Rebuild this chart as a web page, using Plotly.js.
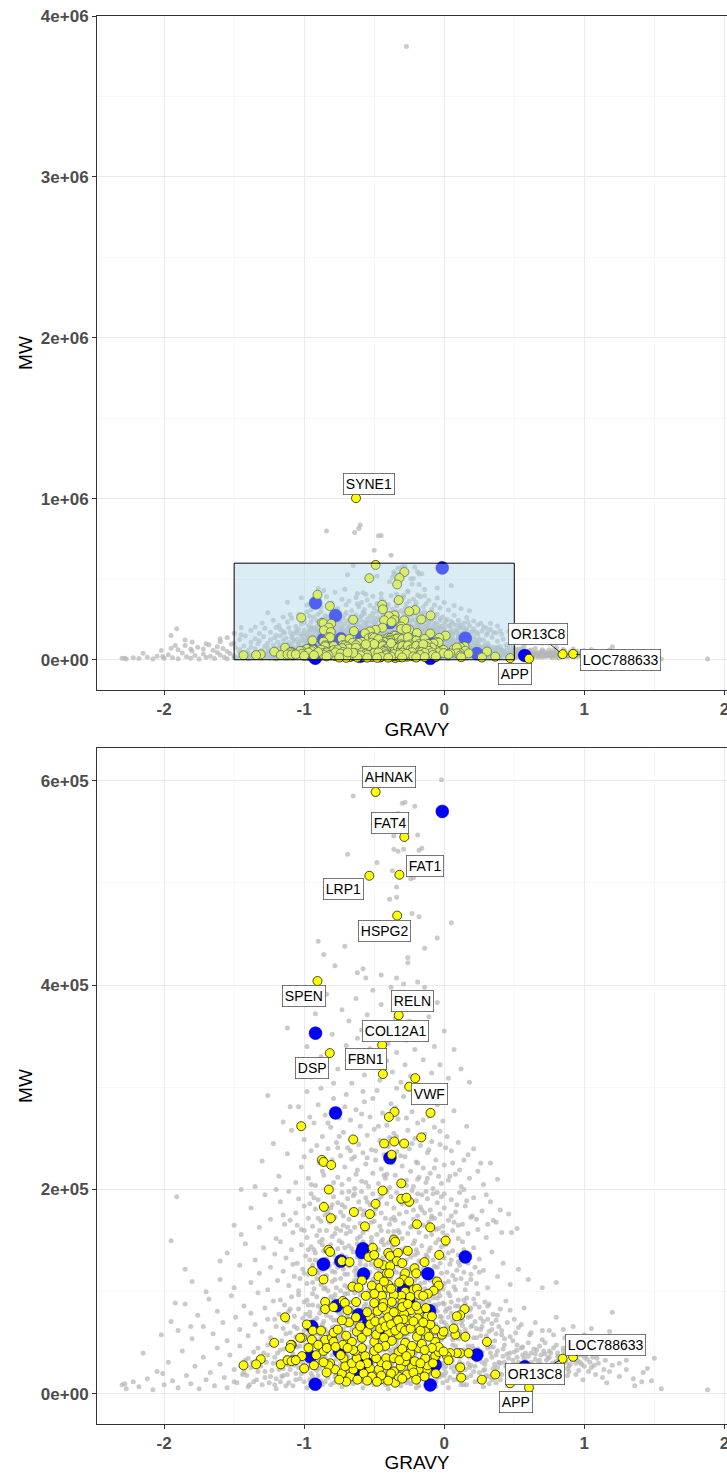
<!DOCTYPE html>
<html><head><meta charset="utf-8">
<script src="https://cdn.plot.ly/plotly-3.0.1.min.js"></script>
<style>html,body{margin:0;padding:0;overflow:hidden;background:#fff}</style>
</head><body><div id="chart"></div>
<script>
// ---------- DATA: [GRAVY, MW in kDa] ----------
const grayPoints = [
[-0.27,3810],[-0.84,800],[-0.64,790],[-0.6,837],[-0.61,815],[-0.47,770],[-0.45,772],[-0.38,650],[-0.5,680],
[-0.02,601],[-0.65,585],[-0.3,578],[-0.28,579],[-0.21,575],[-0.33,568],[-0.36,546],[-0.19,547],[-0.36,533],[-0.33,531],[-0.29,533],[-0.18,532],[-0.16,534],[-0.69,528],[-0.48,520],[-0.37,512],[-0.24,504],[-0.22,505],[-0.34,496],[-0.39,484],[-0.34,486],[-0.23,470],[-0.18,467],[0.05,461],[-0.05,446],[-0.14,436],[-0.9,443],[-0.71,438],[-0.86,430],[-0.78,419],[-0.58,416],[-0.56,407],[-0.26,427],[-0.26,422],[-0.34,407],[-0.29,401],[-0.19,403],[-0.45,410],[-0.62,412],
[-1.12,358],[-0.98,340],[-0.92,372],[-0.88,330],[-0.84,391],[-0.8,352],[-0.76,318],[-0.73,376],[-0.7,341],[-0.68,365],[-0.66,304],[-0.63,387],[-0.61,329],[-0.59,356],[-0.57,312],[-0.55,371],[-0.53,338],[-0.51,395],[-0.5,322],[-0.48,349],[-0.46,307],[-0.45,381],[-0.43,360],[-0.41,326],[-0.4,343],[-0.38,398],[-0.37,315],[-0.35,367],[-0.34,334],[-0.32,352],[-0.31,305],[-0.29,388],[-0.28,322],[-0.27,346],[-0.25,365],[-0.24,311],[-0.22,378],[-0.21,337],[-0.2,356],[-0.18,302],[-0.17,392],[-0.15,327],[-0.13,348],[-0.11,369],[-0.09,314],[-0.07,340],[-0.05,383],[-0.03,322],[0.0,355],[0.03,309],[0.07,337],[0.12,318],[0.18,305],[-0.95,310],[-1.02,385],[-0.79,304],[-0.62,348],[-0.44,332],[-0.26,303],[-0.14,398],
[-1.35,203],[-1.3,228],[-1.26,292],[-1.22,245],[-1.18,213],[-1.15,266],[-1.12,235],[-1.09,258],[-1.06,207],[-1.04,281],[-1.02,222],[-1.0,249],[-0.98,296],[-0.97,211],[-0.95,238],[-0.93,265],[-0.92,204],[-0.9,283],[-0.89,226],[-0.87,252],[-0.86,214],[-0.85,273],[-0.83,240],[-0.82,202],[-0.81,261],[-0.8,229],[-0.79,289],[-0.77,246],[-0.76,212],[-0.75,270],[-0.74,233],[-0.73,205],[-0.72,256],[-0.71,222],[-0.7,293],[-0.69,241],[-0.68,210],[-0.67,268],[-0.66,230],[-0.65,251],[-0.64,201],[-0.63,278],[-0.62,219],[-0.61,244],[-0.6,262],[-0.59,208],[-0.58,236],[-0.57,286],[-0.56,225],[-0.55,253],[-0.54,203],[-0.53,271],[-0.52,239],[-0.51,216],[-0.5,259],[-0.49,229],[-0.48,297],[-0.47,206],[-0.46,248],[-0.45,220],[-0.44,275],[-0.43,234],[-0.42,211],[-0.41,263],[-0.4,242],[-0.39,202],[-0.38,284],[-0.37,226],[-0.36,255],[-0.35,214],[-0.34,237],[-0.33,269],[-0.32,205],[-0.31,246],[-0.3,223],[-0.29,291],[-0.28,232],[-0.27,209],[-0.26,258],[-0.25,240],[-0.24,218],[-0.23,276],[-0.22,203],[-0.21,250],[-0.2,227],[-0.19,265],[-0.18,212],[-0.17,243],[-0.16,288],[-0.15,221],[-0.14,254],[-0.13,207],[-0.12,236],[-0.11,272],[-0.1,216],[-0.09,247],[-0.08,201],[-0.07,261],[-0.06,229],[-0.05,283],[-0.04,213],[-0.03,244],[-0.02,206],[-0.01,267],[0.0,224],[0.02,252],[0.03,209],[0.05,238],[0.07,277],[0.08,215],[0.1,246],[0.12,203],[0.14,229],[0.16,262],[0.18,211],[0.21,240],[0.24,218],[0.28,205],[0.33,226],[0.38,210],[-0.88,299],[-0.58,296],[-0.34,299],[-0.14,298],[-1.1,281],[-0.2,296],
[-1.0,232],[-0.96,271],[-0.91,243],[-0.87,218],[-0.83,265],[-0.79,207],[-0.75,252],[-0.71,281],[-0.67,238],[-0.63,215],[-0.59,274],[-0.55,231],[-0.51,289],[-0.47,262],[-0.43,214],[-0.39,251],[-0.35,280],[-0.31,233],[-0.27,270],[-0.23,245],[-0.19,210],[-0.15,268],[-0.11,239],[-0.07,221],[-0.03,257],[0.01,241],[0.06,226],[0.11,219],[0.17,234],[0.26,226],
[-1.45,156],[-1.38,182],[-1.32,163],[-1.28,195],[-1.24,171],[-1.2,152],[-1.17,188],[-1.14,166],[-1.11,198],[-1.08,158],[-1.06,177],[-1.04,191],[-1.02,161],[-1.0,184],[-0.98,153],[-0.97,172],[-0.95,196],[-0.94,164],[-0.92,181],[-0.91,155],[-0.9,190],[-0.88,169],[-0.87,151],[-0.86,186],[-0.85,175],[-0.84,160],[-0.83,199],[-0.82,168],[-0.81,182],[-0.8,154],[-0.79,193],[-0.78,173],[-0.77,162],[-0.76,187],[-0.75,150],[-0.74,178],[-0.73,197],[-0.72,165],[-0.71,183],[-0.7,157],[-0.69,191],[-0.68,171],[-0.67,159],[-0.66,180],[-0.65,194],[-0.64,163],[-0.63,176],[-0.62,152],[-0.61,188],[-0.6,167],[-0.59,198],[-0.58,158],[-0.57,179],[-0.56,192],[-0.55,161],[-0.54,174],[-0.53,185],[-0.52,153],[-0.51,196],[-0.5,169],[-0.49,181],[-0.48,156],[-0.47,190],[-0.46,164],[-0.45,177],[-0.44,151],[-0.43,199],[-0.42,172],[-0.41,186],[-0.4,159],[-0.39,166],[-0.38,193],[-0.37,154],[-0.36,182],[-0.35,170],[-0.34,197],[-0.33,160],[-0.32,176],[-0.31,188],[-0.3,152],[-0.29,167],[-0.28,194],[-0.27,178],[-0.26,157],[-0.25,185],[-0.24,163],[-0.23,199],[-0.22,171],[-0.21,150],[-0.2,189],[-0.19,174],[-0.18,158],[-0.17,183],[-0.16,195],[-0.15,165],[-0.14,177],[-0.13,154],[-0.12,191],[-0.11,168],[-0.1,180],[-0.09,156],[-0.08,196],[-0.07,172],[-0.06,161],[-0.05,187],[-0.04,151],[-0.03,176],[-0.02,193],[-0.01,164],[0.0,182],[0.02,155],[0.03,170],[0.05,190],[0.06,160],[0.08,178],[0.1,152],[0.11,197],[0.13,166],[0.15,184],[0.17,157],[0.19,173],[0.21,192],[0.24,161],[0.27,179],[0.3,153],[0.33,188],[0.37,168],[0.41,158],[0.46,176],[0.52,162],[-0.96,186],[-0.74,160],[-0.58,175],[-0.36,159],[-0.19,196],[-0.08,163],[0.07,168],
[-1.1,170],[-1.0,160],[-0.93,192],[-0.89,160],[-0.83,178],[-0.78,157],[-0.73,185],[-0.69,163],[-0.64,196],[-0.6,154],[-0.55,188],[-0.5,176],[-0.45,160],[-0.41,198],[-0.36,173],[-0.32,158],[-0.27,191],[-0.22,180],[-0.18,166],[-0.13,198],[-0.09,174],[-0.04,162],[0.0,196],[0.05,174],[0.1,165],[0.16,189],[0.23,171],[0.31,166],[0.4,180],[0.48,158],
[-1.6,112],[-1.55,138],[-1.5,104],[-1.46,126],[-1.42,147],[-1.38,109],[-1.35,131],[-1.32,118],[-1.29,143],[-1.26,102],[-1.24,124],[-1.21,137],[-1.19,111],[-1.17,149],[-1.15,120],[-1.13,133],[-1.11,106],[-1.09,141],[-1.07,115],[-1.05,128],[-1.04,101],[-1.02,146],[-1.01,122],[-0.99,135],[-0.98,108],[-0.97,117],[-0.95,144],[-0.94,126],[-0.93,103],[-0.92,138],[-0.91,113],[-0.9,129],[-0.89,149],[-0.88,107],[-0.87,121],[-0.86,140],[-0.85,115],[-0.84,132],[-0.83,101],[-0.82,125],[-0.81,146],[-0.8,110],[-0.79,136],[-0.78,119],[-0.77,104],[-0.76,142],[-0.75,128],[-0.74,113],[-0.73,148],[-0.72,122],[-0.71,106],[-0.7,134],[-0.69,117],[-0.68,145],[-0.67,102],[-0.66,127],[-0.65,139],[-0.64,111],[-0.63,123],[-0.62,147],[-0.61,105],[-0.6,131],[-0.59,116],[-0.58,143],[-0.57,109],[-0.56,126],[-0.55,137],[-0.54,101],[-0.53,119],[-0.52,149],[-0.51,112],[-0.5,133],[-0.49,124],[-0.48,104],[-0.47,141],[-0.46,117],[-0.45,130],[-0.44,108],[-0.43,146],[-0.42,121],[-0.41,135],[-0.4,103],[-0.39,127],[-0.38,114],[-0.37,144],[-0.36,106],[-0.35,132],[-0.34,119],[-0.33,148],[-0.32,110],[-0.31,125],[-0.3,139],[-0.29,102],[-0.28,128],[-0.27,115],[-0.26,142],[-0.25,107],[-0.24,134],[-0.23,120],[-0.22,147],[-0.21,111],[-0.2,126],[-0.19,138],[-0.18,104],[-0.17,118],[-0.16,145],[-0.15,129],[-0.14,109],[-0.13,136],[-0.12,122],[-0.11,101],[-0.1,143],[-0.09,114],[-0.08,131],[-0.07,106],[-0.06,148],[-0.05,124],[-0.04,112],[-0.03,139],[-0.02,118],[-0.01,103],[0.0,133],[0.01,146],[0.03,110],[0.04,127],[0.06,140],[0.07,105],[0.09,121],[0.1,136],[0.12,113],[0.13,149],[0.15,102],[0.17,128],[0.19,117],[0.21,143],[0.23,108],[0.25,132],[0.28,121],[0.31,104],[0.34,139],[0.38,115],[0.42,128],[0.47,107],[0.53,122],[0.6,112],[0.7,104],[0.8,109],
[-1.03,113],[-0.96,131],[-0.9,118],[-0.86,103],[-0.82,137],[-0.78,128],[-0.74,101],[-0.71,143],[-0.68,125],[-0.65,108],[-0.62,134],[-0.59,102],[-0.57,121],[-0.54,144],[-0.52,127],[-0.5,109],[-0.47,123],[-0.45,149],[-0.43,116],[-0.41,104],[-0.38,137],[-0.36,121],[-0.34,107],[-0.31,141],[-0.29,116],[-0.27,131],[-0.24,103],[-0.22,125],[-0.2,141],[-0.17,108],[-0.15,122],[-0.12,134],[-0.1,111],[-0.07,125],[-0.04,100],[-0.02,144],[0.02,119],[0.05,131],[0.08,112],[0.11,126],[0.14,119],[0.18,137],[0.22,124],[-1.08,127],[-0.93,141],[-0.8,120],[-0.63,116],[-0.48,136],[-0.33,126],[-0.18,130],[-0.05,137],[0.16,108],
[-2.02,58],[-1.95,71],[-1.9,62],[-1.85,88],[-1.8,54],[-1.76,77],[-1.72,66],[-1.68,93],[-1.65,59],[-1.62,81],[-1.58,70],[-1.55,52],[-1.52,96],[-1.49,75],[-1.46,63],[-1.43,86],[-1.4,57],[-1.38,79],[-1.35,68],[-1.33,99],[-1.3,61],[-1.28,84],[-1.26,73],[-1.24,55],[-1.22,91],[-1.2,66],[-1.18,78],[-1.16,52],[-1.14,87],[-1.12,71],[-1.1,60],[-1.09,95],[-1.07,76],[-1.05,64],[-1.04,83],[-1.02,53],[-1.0,90],[-0.99,69],[-0.97,58],[-0.96,80],[-0.94,98],[-0.93,62],[-0.91,74],[-0.9,86],[-0.88,55],[-0.87,68],[-0.86,93],[-0.84,77],[-0.83,60],[-0.82,84],[-0.8,51],[-0.79,72],[-0.78,97],[-0.76,65],[-0.75,88],[-0.74,57],[-0.73,79],[-0.71,70],[-0.7,92],[-0.69,54],[-0.68,83],[-0.66,63],[-0.65,75],[-0.64,99],[-0.63,58],[-0.62,87],[-0.6,67],[-0.59,78],[-0.58,52],[-0.57,94],[-0.56,71],[-0.54,61],[-0.53,85],[-0.52,56],[-0.51,76],[-0.5,96],[-0.49,64],[-0.48,89],[-0.46,53],[-0.45,73],[-0.44,82],[-0.43,59],[-0.42,98],[-0.41,68],[-0.4,79],[-0.39,55],[-0.38,91],[-0.37,62],[-0.36,74],[-0.35,86],[-0.34,51],[-0.33,70],[-0.32,95],[-0.31,60],[-0.3,81],[-0.29,66],[-0.28,88],[-0.27,54],[-0.26,77],[-0.25,99],[-0.24,63],[-0.23,72],[-0.22,84],[-0.21,57],[-0.2,93],[-0.19,69],[-0.18,80],[-0.17,52],[-0.16,75],[-0.15,90],[-0.14,61],[-0.13,83],[-0.12,67],[-0.11,97],[-0.1,56],[-0.09,78],[-0.08,71],[-0.07,87],[-0.06,59],[-0.05,94],[-0.04,65],[-0.03,76],[-0.02,53],[-0.01,89],[0.0,70],[0.01,81],[0.03,58],[0.04,96],[0.05,64],[0.07,73],[0.08,86],[0.1,54],[0.11,79],[0.13,67],[0.14,92],[0.16,60],[0.17,75],[0.19,84],[0.21,55],[0.22,71],[0.24,98],[0.26,63],[0.28,80],[0.3,57],[0.32,88],[0.34,69],[0.36,52],[0.38,77],[0.41,62],[0.44,91],[0.47,56],[0.5,73],[0.53,65],[0.57,84],[0.61,58],[0.65,70],[0.7,53],[0.75,62],[0.8,75],[0.86,55],[0.92,66],[1.0,58],[1.08,52],[1.18,61],
[-1.11,81],[-1.06,56],[-1.01,74],[-0.98,92],[-0.95,66],[-0.92,53],[-0.89,79],[-0.85,63],[-0.81,95],[-0.77,72],[-0.74,86],[-0.72,60],[-0.69,76],[-0.67,90],[-0.64,68],[-0.61,55],[-0.58,83],[-0.55,66],[-0.53,99],[-0.5,58],[-0.47,80],[-0.45,62],[-0.42,74],[-0.4,93],[-0.37,56],[-0.35,69],[-0.33,82],[-0.3,64],[-0.28,97],[-0.26,59],[-0.24,85],[-0.22,68],[-0.19,76],[-0.17,62],[-0.14,88],[-0.12,54],[-0.1,72],[-0.08,94],[-0.05,81],[-0.03,61],[0.0,88],[0.02,67],[0.05,79],[0.07,57],[0.1,92],[0.12,70],[0.15,63],[0.18,82],[0.2,67],[0.23,55],[0.26,74],[0.29,90],[0.32,61],[0.35,78],[0.39,66],[0.43,54],[0.47,82],[0.51,60],[-1.15,64],[-0.96,76],[-0.87,85],[-0.79,58],[-0.71,98],[-0.63,77],[-0.56,88],[-0.48,71],[-0.43,51],[-0.38,84],[-0.32,75],[-0.27,66],[-0.21,91],[-0.16,70],[-0.11,84],[-0.07,52],[-0.02,75],[0.03,99],[0.09,63],[0.13,77],[0.22,88],[0.27,66],[0.37,59],[0.55,68],
[-1.0,62],[-0.94,87],[-0.9,59],[-0.86,71],[-0.83,90],[-0.8,65],[-0.76,81],[-0.73,53],[-0.7,67],[-0.66,84],[-0.62,70],[-0.6,97],[-0.57,61],[-0.54,78],[-0.51,87],[-0.49,53],[-0.46,68],[-0.44,95],[-0.41,57],[-0.39,71],[-0.36,62],[-0.34,89],[-0.31,72],[-0.29,56],[-0.27,81],[-0.25,65],[-0.23,93],[-0.2,60],[-0.18,73],[-0.15,97],[-0.13,75],[-0.11,62],[-0.09,86],[-0.06,68],[-0.04,88],[-0.01,57],[0.01,64],[0.04,84],[0.06,71],[0.09,78],[0.12,58],[0.16,94],[0.19,66],[0.25,85],[0.31,73],[0.4,83],
[-2.3,9],[-2.27,5],[-2.22,12],[-2.18,7],[-2.12,15],[-2.08,4],[-2.05,22],[-2.0,9],[-1.97,31],[-1.94,13],[-1.9,6],[-1.87,42],[-1.84,18],[-1.81,10],[-1.78,27],[-1.75,5],[-1.72,36],[-1.7,14],[-1.67,21],[-1.64,8],[-1.62,45],[-1.6,29],[-1.57,16],[-1.55,6],[-1.53,38],[-1.5,24],[-1.48,11],[-1.46,47],[-1.44,19],[-1.42,33],[-1.4,7],[-1.38,26],[-1.36,41],[-1.34,14],[-1.32,35],[-1.3,9],[-1.28,22],[-1.26,48],[-1.24,17],[-1.22,30],[-1.2,5],[-1.19,40],[-1.17,12],[-1.15,25],[-1.14,44],[-1.12,19],[-1.1,33],[-1.08,8],[-1.07,28],[-1.05,46],[-1.03,15],[-1.02,37],[-1.0,22],[-0.98,6],[-0.97,31],[-0.95,43],[-0.94,13],[-0.92,26],[-0.91,49],[-0.9,18],[-0.88,35],[-0.87,9],[-0.85,29],[-0.84,41],[-0.83,16],[-0.81,24],[-0.8,47],[-0.79,11],[-0.77,34],[-0.76,20],[-0.75,39],[-0.73,7],[-0.72,27],[-0.71,45],[-0.7,15],[-0.68,32],[-0.67,23],[-0.66,49],[-0.65,10],[-0.63,37],[-0.62,19],[-0.61,28],[-0.6,42],[-0.58,6],[-0.57,25],[-0.56,35],[-0.55,14],[-0.54,46],[-0.52,21],[-0.51,31],[-0.5,9],[-0.49,40],[-0.48,17],[-0.47,27],[-0.45,48],[-0.44,12],[-0.43,36],[-0.42,23],[-0.41,30],[-0.4,5],[-0.39,43],[-0.38,16],[-0.37,26],[-0.36,38],[-0.35,11],[-0.34,33],[-0.33,47],[-0.32,20],[-0.31,8],[-0.3,29],[-0.29,41],[-0.28,14],[-0.27,35],[-0.26,24],[-0.25,45],[-0.24,10],[-0.23,31],[-0.22,18],[-0.21,39],[-0.2,6],[-0.19,27],[-0.18,49],[-0.17,15],[-0.16,34],[-0.15,22],[-0.14,42],[-0.13,9],[-0.12,30],[-0.11,19],[-0.1,37],[-0.09,13],[-0.08,46],[-0.07,25],[-0.06,7],[-0.05,33],[-0.04,40],[-0.03,17],[-0.02,28],[-0.01,11],[0.0,44],[0.01,21],[0.02,35],[0.03,6],[0.05,26],[0.06,48],[0.07,14],[0.08,38],[0.1,19],[0.11,31],[0.12,9],[0.14,43],[0.15,24],[0.16,16],[0.18,36],[0.19,28],[0.2,47],[0.22,12],[0.23,33],[0.25,21],[0.26,40],[0.28,7],[0.29,29],[0.31,45],[0.32,17],[0.34,36],[0.35,25],[0.37,11],[0.38,42],[0.4,30],[0.41,19],[0.43,48],[0.45,8],[0.46,35],[0.48,23],[0.5,41],[0.51,14],[0.53,31],[0.55,26],[0.56,46],[0.58,18],[0.6,37],[0.61,9],[0.63,29],[0.65,22],[0.66,43],[0.68,33],[0.7,15],[0.72,39],[0.74,27],[0.76,20],[0.78,45],[0.8,32],[0.82,11],[0.84,25],[0.86,38],[0.88,18],[0.9,29],[0.93,42],[0.96,23],[0.99,14],[1.02,34],[1.05,26],[1.08,19],[1.12,40],[1.16,11],[1.2,28],[1.25,17],[1.3,33],[1.36,8],[1.42,21],[1.48,13],[1.55,5],[1.88,4],
[-1.41,18],[-1.37,31],[-1.33,22],[-1.29,40],[-1.25,11],[-1.21,36],[-1.18,24],[-1.13,8],[-1.09,42],[-1.06,20],[-1.01,30],[-0.96,14],[-0.93,38],[-0.89,25],[-0.86,44],[-0.82,32],[-0.78,17],[-0.74,29],[-0.69,37],[-0.64,22],[-0.59,12],[-0.53,40],[-0.46,32],[-0.41,19],[-0.36,44],[-0.31,24],[-0.26,13],[-0.21,30],[-0.16,45],[-0.11,26],[-0.06,38],[-0.01,30],[0.04,16],[0.09,42],[0.13,29],[0.17,47],[0.21,22],[0.24,44],[0.27,31],[0.3,18],[0.33,40],[0.36,29],[0.39,20],[0.42,37],[0.44,27],[0.47,16],[0.49,33],[0.52,43],[0.54,21],[0.57,35],[0.59,28],[0.62,40],[0.64,24],[0.67,30],[0.69,38],[0.71,26],[0.73,33],[0.75,42],[0.77,30],[0.79,24],[0.81,37],[0.83,28],[0.85,45],[0.87,31],[0.89,22],[0.91,36],[0.94,30],[0.97,38],[1.0,27],[1.03,22],[1.06,36],[1.1,30],[1.14,24],[-1.5,12],[-1.45,27],[-1.39,9],[-1.27,31],[-1.16,17],[-1.04,26],[-0.99,48],[-0.91,7],[-0.8,38],[-0.72,19],[-0.66,33],[-0.6,24],[-0.55,30],[-0.5,20],[-0.44,28],[-0.39,34],[-0.33,16],[-0.28,38],[-0.24,22],[-0.19,12],[-0.14,35],[-0.09,21],[-0.04,29],[0.0,18],[0.06,33],[0.11,24],[0.16,9],[0.2,38],[0.26,14],[0.35,46],[0.45,39],[0.55,11],[0.65,34],[0.72,21],[0.8,15],[0.9,41],[1.0,44],
[-1.2,15],[-1.11,28],[-1.03,35],[-0.95,20],[-0.9,31],[-0.85,12],[-0.79,27],[-0.75,43],[-0.7,25],[-0.65,37],[-0.61,17],[-0.57,44],[-0.52,29],[-0.48,36],[-0.43,14],[-0.38,28],[-0.34,21],[-0.29,33],[-0.25,17],[-0.2,41],[-0.15,29],[-0.1,21],[-0.05,16],[0.0,25],[0.04,37],[0.08,27],[0.12,18],[0.18,26],[0.23,39],[0.28,23],[0.34,14],[0.39,31],[0.46,24],[0.52,28],[0.58,32],[0.63,19],[0.68,24],[0.74,35],[0.79,30],[0.84,34],[0.89,27],[0.95,33],[0.98,29],[1.04,31],[1.09,35],
[-1.43,21],[-1.4,35],[-1.36,12],[-1.33,45],[-1.31,27],[-1.28,16],[-1.26,38],[-1.23,23],[-1.21,9],[-1.19,31],[-1.17,43],[-1.15,18],[-1.13,36],[-1.11,11],[-1.1,24],[-1.08,39],[-1.06,14],[-1.05,32],[-1.03,47],[-1.02,20],[-1.0,12],[-0.99,38],[-0.97,26],[-0.96,44],[-0.94,17],[-0.93,33],[-0.91,23],[-0.9,41],[-0.88,13],[-0.87,28],[-0.85,36],[-0.84,21],[-0.82,46],[-0.81,9],[-0.8,30],[-0.78,40],[-0.77,25],[-0.75,16],[-0.74,48],[-0.72,34],[-0.71,22],[-0.7,40],[-0.68,12],[-0.67,29],[-0.65,44],[-0.64,18],[-0.63,31],[-0.61,39],[-0.6,15],[-0.59,26],[-0.57,47],[-0.56,21],[-0.55,33],[-0.53,11],[-0.52,42],[-0.51,25],[-0.49,15],[-0.48,37],[-0.47,49],[-0.46,22],[-0.44,32],[-0.43,43],[-0.42,9],[-0.4,27],[-0.39,19],[-0.38,40],[-0.37,31],[-0.35,13],[-0.34,45],[-0.33,26],[-0.31,35],[-0.3,20],[-0.29,48],[-0.27,11],[-0.26,29],[-0.25,38],[-0.23,17],[-0.22,42],[-0.21,25],[-0.19,34],[-0.18,8],[-0.17,21],[-0.16,40],[-0.14,28],[-0.13,47],[-0.12,15],[-0.1,33],[-0.09,24],[-0.08,41],[-0.06,12],[-0.05,29],[-0.04,36],[-0.02,19],[-0.01,45],[0.01,27],[0.02,13],[0.04,40],[0.05,31],[0.07,22],[0.08,47],[0.1,14],[0.11,36],[0.13,25],[0.14,9],[0.16,39],[0.17,30],[0.19,18],[0.21,44],[0.22,27],[0.24,35],[0.25,12],[0.27,41],[0.29,24],[0.3,33],[0.32,10],[0.33,46],[0.35,19],[0.37,38],[0.38,26],[0.4,14],[0.42,44],[0.43,31],[0.45,21],[0.47,40],[0.48,11],[0.5,29],[0.52,36],[0.53,19],[0.55,45],[0.57,24],[0.58,40],[0.6,14],[0.62,31],[0.63,25],[0.65,39],[0.67,17],[0.69,29],[0.71,42],[0.73,22],[0.75,36],[0.77,13],[0.79,28],[0.81,40],[0.83,21],[0.86,32],[0.88,25],[0.91,34],[0.94,19],[0.97,31],[1.01,38],[1.07,28],
[0.52,48],[0.56,38],[0.6,50],[0.64,44],[0.68,47],[0.72,50],[0.76,40],[0.8,48],[0.85,42],[0.9,50],[0.95,40],[1.0,36],[1.05,42],[1.1,45],[1.15,33],[1.2,40],[1.25,30],[1.18,22],[1.13,16],[1.3,24],[1.35,15],[1.45,25],[0.62,60],[0.7,62],[0.78,58],[0.85,63],[0.95,55],[1.05,64],
[-1.21,73],[-1.17,92],[-1.13,59],[-1.1,83],[-1.07,66],[-1.04,97],[-1.01,55],[-0.99,78],[-0.97,87],[-0.95,61],[-0.93,72],[-0.91,95],[-0.89,52],[-0.88,83],[-0.86,64],[-0.84,89],[-0.82,57],[-0.81,75],[-0.79,93],[-0.78,66],[-0.76,54],[-0.75,79],[-0.73,88],[-0.72,63],[-0.7,74],[-0.69,98],[-0.67,57],[-0.66,81],[-0.64,69],[-0.63,91],[-0.61,52],[-0.6,76],[-0.58,64],[-0.57,86],[-0.55,59],[-0.54,94],[-0.52,71],[-0.51,62],[-0.5,83],[-0.48,54],[-0.47,91],[-0.45,76],[-0.44,65],[-0.42,87],[-0.41,53],[-0.39,80],[-0.38,62],[-0.36,96],[-0.35,73],[-0.33,57],[-0.32,86],[-0.3,69],[-0.29,77],[-0.27,93],[-0.26,52],[-0.24,70],[-0.23,83],[-0.21,61],[-0.2,99],[-0.18,67],[-0.17,89],[-0.15,55],[-0.14,79],[-0.12,66],[-0.11,91],[-0.09,58],[-0.08,74],[-0.06,85],[-0.05,63],[-0.03,96],[-0.02,71],[0.0,56],[0.02,83],[0.03,75],[0.05,90],[0.06,53],[0.08,68],[0.1,86],[0.11,61],[0.13,72],[0.15,88],[0.17,57],[0.19,76],[0.21,93],[0.23,64],[0.26,57],[0.28,71],[0.31,86],[0.34,63],[0.37,72],[0.41,58],[0.45,70],[0.49,52],
[-1.0,118],[-0.97,141],[-0.94,109],[-0.92,131],[-0.89,122],[-0.87,146],[-0.85,104],[-0.83,129],[-0.8,139],[-0.78,112],[-0.76,124],[-0.73,136],[-0.71,117],[-0.69,104],[-0.66,142],[-0.64,120],[-0.62,111],[-0.6,127],[-0.58,149],[-0.55,114],[-0.53,132],[-0.51,103],[-0.49,141],[-0.46,120],[-0.44,133],[-0.42,111],[-0.4,148],[-0.37,124],[-0.35,102],[-0.33,136],[-0.31,117],[-0.28,143],[-0.26,122],[-0.23,108],[-0.21,136],[-0.19,114],[-0.16,129],[-0.14,103],[-0.11,140],[-0.09,121],[-0.06,113],[-0.03,128],[0.0,108],[0.03,138],[0.06,116],[0.1,129],[0.14,141],[0.19,112],[0.25,119],[-0.84,116],[-0.67,131],[-0.48,107],[-0.3,110],[-0.13,116],[0.08,102],
[-1.05,165],[-0.95,205],[-0.9,172],[-0.84,225],[-0.8,185],[-0.76,241],[-0.72,174],[-0.68,198],[-0.64,232],[-0.6,181],[-0.56,207],[-0.52,168],[-0.49,238],[-0.45,193],[-0.41,215],[-0.38,171],[-0.34,252],[-0.3,186],[-0.27,204],[-0.23,164],[-0.19,226],[-0.16,180],[-0.12,211],[-0.09,172],[-0.05,197],[-0.01,158],[0.04,213],[0.09,185],[0.14,200],[0.2,174],[-1.2,200],[-1.15,175],[0.3,195],[0.35,170],
[-1.91,193],[-1.85,122],[-1.95,150],[-1.8,110],[-1.7,100],[-1.92,89],[-1.81,66],[-2.01,20],[-2.28,10],[1.41,12],[-1.6,130],[-1.5,165],[-1.45,200],[1.2,80],[1.3,45],[1.5,35],[-2.15,40]
];

const bluePoints = [
[-0.014,570],[-0.919,353],[-0.776,275],[-0.388,231],[0.15,134],[-0.581,142],[-0.862,127],[-0.738,130],[-0.588,138.5],[-0.117,117.6],[-0.576,117.3],[-0.767,86.3],[-0.612,77.5],[-0.291,102],[-0.255,90.5],[-0.105,81.4],[-0.945,66],[-0.957,36.6],[-0.748,41.5],[-0.6,21.9],[-0.921,9.5],[-0.1,8.8],[-0.064,28.4],[0.233,38.2],[0.575,26.5],[-0.423,61],[-0.557,30.4],[-0.539,71]
];

const yellowPoints = [
[-0.207,309],[-0.355,276],[-0.395,271],[-0.098,275],[-1.021,262],[-0.65,249],[-0.429,245],[-0.357,247],[-0.286,245],[-0.164,251],[-0.376,234],[-0.874,229],[-0.862,227],[-0.807,224],[-0.307,206],[-0.824,200],[-0.44,199],[-0.307,191],[-0.25,188],[-0.27,192],[-0.49,186],[-0.859,183],[-0.645,178],[-0.531,176],[-0.81,172],[-0.566,164],[-0.195,166],[-0.1,163],[-0.359,151],[0.01,150],
[-0.826,141],[-0.815,139],[-0.731,130],[-0.676,129],[-0.54,134],[-0.51,143],[-0.5,136],[-0.941,120],[-0.862,112],[-0.588,111],[-0.655,105],[-0.612,104],[-0.517,106],[-0.433,126],[-0.41,118],[-0.4,138],[-0.457,104],[-0.41,104],[-0.036,136],[-0.141,129],[-0.212,123],[-0.35,149],[-0.386,135],[-0.331,138],[-0.338,130],[-0.386,125],[-0.393,118],[-0.279,118],[-0.291,112],[-0.321,109],[-0.4,107],[-0.052,110],[-0.04,106],[-0.076,101],[-0.279,100],[-0.219,102],[-0.195,103],[-0.47,115],[-0.43,110],[-0.25,110],[-0.2,118],[-0.3,128],[-0.26,140],[-0.47,128],
[-0.445,96],[-0.85,90],[-0.85,83],[-0.79,85],[-0.724,91],[-0.71,89],[-0.69,82],[-0.629,90],[-0.529,75],[-0.5,89],[-0.476,81],[-0.433,89],[-0.117,98],[-0.183,97],[-0.243,95],[-0.307,96],[-0.36,97],[-0.374,90],[-0.298,89],[-0.236,82],[-0.183,82],[-0.12,76],[-0.41,81],[-0.33,81],[-0.286,78],[0.145,83],[0.114,77],[-0.981,68],[-0.938,62],[-1.016,55],[-0.945,53],[-0.85,53],[-0.802,55],[-0.79,51],[-0.659,51],[-0.624,61],[-0.588,55],[-0.55,61],[-0.5,51],[-0.486,58],[-0.529,68],[-0.493,71],[-0.436,71],[-0.457,64],[-0.79,60],[0.15,56],[0.079,58],[0.067,64],[-0.064,51],[-0.017,58],[-0.064,63],[-0.005,61],[-0.136,61],[-0.183,66],[-0.1,68],[-0.195,56],[-0.279,50],[-0.326,58],[-0.398,60],[-0.374,52],[-0.255,72],[-0.291,73],[-0.19,74],[-0.088,76],[0.09,76],[0.305,51],[-1.136,75],[-1.029,55],[-1.214,50],[-0.44,85],[-0.42,66],[-0.4,75],[-0.38,68],[-0.36,80],[-0.35,62],[-0.33,72],[-0.31,65],[-0.3,85],[-0.28,62],[-0.26,88],[-0.24,64],[-0.22,71],[-0.2,86],[-0.17,62],[-0.15,70],[-0.13,84],[-0.11,56],[-0.43,55],[-0.7,57],[-0.68,70],[-0.6,66],[-0.55,80],[-0.5,98],[-0.38,103],[-0.15,96],[-0.56,96],[-0.63,75],[-0.73,72],[-0.76,63],[-0.88,62],
[-0.969,45],[-1.088,48],[-1.016,37],[-1.064,33],[-1.088,33],[-0.914,38],[-0.862,42],[-0.838,45],[-0.724,48],[-0.719,35],[-0.814,30],[-0.779,24],[-0.731,20],[-0.671,17],[-0.648,24],[-0.707,27],[-0.659,30],[-0.624,35],[-0.636,42],[-0.588,45],[-0.564,37],[-0.529,25],[-0.517,17],[-0.576,20],[-0.457,14],[-0.467,24],[-0.45,31],[-0.486,35],[-0.5,42],[-0.421,47],[-0.414,35],[-0.776,46],[-0.826,28],[-0.862,31],[-0.74,38],[0.114,40],[0.09,40],[0.043,40],[0.174,40],[0.114,26],[0.121,16],[0.269,14],[-0.124,24],[-0.12,28],[-0.183,24],[-0.23,26],[-0.267,19],[-0.35,11],[-0.326,17],[-0.36,22],[-0.31,27],[-0.279,32],[-0.21,32],[-0.136,35],[-0.064,37],[-0.04,41],[0.019,37],[-0.04,46],[-0.088,45],[-0.326,41],[-0.243,40],[-0.183,45],[0.471,10.5],[0.364,19],[-0.005,41.5],[0.03,33],[-1.095,48],[-1.1,45],[-1.31,34],[-1.343,29],[-1.433,28],[-1.167,29],[-1.119,33],[-1.09,32],[-1.06,33],[-0.16,49],[-0.14,43],[-0.23,47],[-0.3,44],[-0.36,35],[-0.41,28],[-0.38,20],[-0.32,33],[-0.27,37],[-0.22,21],[-0.17,30],[-0.08,30],[-0.47,45],[-0.45,18],[-0.4,13],[-0.3,15],[-0.2,14],[-0.14,17],[-0.06,20],[-0.55,30],[-0.6,28],[-0.62,14],[-0.55,13],[-0.48,12],[-0.7,12],[-0.75,14],[-0.84,21],[-0.65,43],[-0.69,45],[-0.9,48],[-0.93,28],[-1.0,25]
];

// labelled genes (also yellow points)
const labelGenes = ['SYNE1','AHNAK','FAT4','FAT1','LRP1','HSPG2','SPEN','RELN','COL12A1','DSP','FBN1','VWF','LOC788633','OR13C8','APP'];
const labelGRAVY = [-0.63,-0.49,-0.285,-0.32,-0.535,-0.336,-0.905,-0.325,-0.443,-0.817,-0.438,-0.25,0.92,0.845,0.605];
const labelMWk   = [1004,589,545,508,507,468,404,370.5,341.5,333.5,313,300.7,36.3,34.5,6.2];

// axis tick labels
const xTickVals = [-2,-1,0,1,2];
const xTickText = ['-2','-1','0','1','2'];
const yTopTickVals = [0,1e6,2e6,3e6,4e6];
const yTopTickText = ['0e+00','1e+06','2e+06','3e+06','4e+06'];
const yBotTickVals = [0,2e5,4e5,6e5];
const yBotTickText = ['0e+00','2e+05','4e+05','6e+05'];

// ---------- BUILD ----------
const gx = grayPoints.map(p=>p[0]), gy = grayPoints.map(p=>p[1]*1000);
const bx = bluePoints.map(p=>p[0]), by = bluePoints.map(p=>p[1]*1000);
const yx = yellowPoints.map(p=>p[0]).concat(labelGRAVY);
const yy = yellowPoints.map(p=>p[1]*1000).concat(labelMWk.map(v=>v*1000));

function panel(xa, ya){
  return [
    {type:'scatter', mode:'markers', x:gx, y:gy, xaxis:xa, yaxis:ya, hoverinfo:'skip',
     marker:{size:5, color:'rgba(182,182,182,0.72)', line:{width:0}}},
    {type:'scatter', mode:'markers', x:bx, y:by, xaxis:xa, yaxis:ya,
     marker:{size:13, color:'#0000FF', line:{width:0.4, color:'#00008B'}}},
    {type:'scatter', mode:'markers', x:yx, y:yy, xaxis:xa, yaxis:ya,
     marker:{size:9, color:'#FFFF00', line:{width:0.7, color:'#000000'}}}
  ];
}
const data = panel('x','y').concat(panel('x2','y2'));

const FONT = 'Liberation Sans, Arial, Helvetica, sans-serif';
const tickFont = {family:FONT, size:17, color:'#4D4D4D', weight:'bold'};
const titleFont = {family:FONT, size:19, color:'#000000'};
const xRange = [-2.479, 2.09];

function xAxis(anchor){
  return {anchor:anchor, domain:[0,1], range:xRange, tickmode:'array', tickvals:xTickVals, ticktext:xTickText,
    showgrid:true, gridcolor:'#EBEBEB', gridwidth:1, zeroline:false,
    minor:{dtick:0.5, tick0:0, showgrid:true, gridcolor:'#F2F2F2', gridwidth:0.6},
    ticks:'outside', ticklen:4, tickwidth:1, tickcolor:'#333333',
    showline:true, mirror:true, linecolor:'#333333', linewidth:1,
    tickfont:tickFont, title:{text:'GRAVY', font:titleFont, standoff:1}, automargin:false};
}
function yAxis(anchor, domain, range, tv, tt, minorStep){
  return {anchor:anchor, domain:domain, range:range, tickmode:'array', tickvals:tv, ticktext:tt,
    showgrid:true, gridcolor:'#EBEBEB', gridwidth:1, zeroline:false,
    minor:{dtick:minorStep, tick0:0, showgrid:true, gridcolor:'#F2F2F2', gridwidth:0.6},
    ticks:'outside', ticklen:4, tickwidth:1, tickcolor:'#333333',
    showline:true, mirror:true, linecolor:'#333333', linewidth:1,
    tickfont:tickFont, title:{text:'MW', font:titleFont, standoff:3}, automargin:false};
}

// label placement (pixel offsets from point)
const labelPlacement = {
  SYNE1:{ax:'x',ay:'y',dx:13,dy:-14},
  OR13C8:{ax:'x',ay:'y',dx:-25,dy:-20,arrow:true},
  LOC788633:{ax:'x',ay:'y',dx:47,dy:6,arrow:true},
  APP:{ax:'x',ay:'y',dx:-14,dy:15},
  AHNAK:{ax:'x2',ay:'y2',dx:13,dy:-15},
  FAT4:{ax:'x2',ay:'y2',dx:-14,dy:-14},
  FAT1:{ax:'x2',ay:'y2',dx:26,dy:-9},
  LRP1:{ax:'x2',ay:'y2',dx:-26,dy:13},
  HSPG2:{ax:'x2',ay:'y2',dx:-13,dy:15},
  SPEN:{ax:'x2',ay:'y2',dx:-13,dy:15},
  RELN:{ax:'x2',ay:'y2',dx:14,dy:-14},
  COL12A1:{ax:'x2',ay:'y2',dx:13,dy:-14},
  DSP:{ax:'x2',ay:'y2',dx:-18,dy:15},
  FBN1:{ax:'x2',ay:'y2',dx:-17,dy:-15},
  VWF:{ax:'x2',ay:'y2',dx:20,dy:7},
  LOC788633_b:{ax:'x2',ay:'y2',dx:32,dy:-12,arrow:true},
  OR13C8_b:{ax:'x2',ay:'y2',dx:-28,dy:15,arrow:true},
  APP_b:{ax:'x2',ay:'y2',dx:-13,dy:14}
};
const annotations = [];
Object.keys(labelPlacement).forEach(key=>{
  const gene = key.replace('_b','');
  const i = labelGenes.indexOf(gene);
  const p = labelPlacement[key];
  const a = {x:labelGRAVY[i], y:labelMWk[i]*1000, xref:p.ax, yref:p.ay, text:gene,
    font:{family:FONT, size:14, color:'#000'}, bgcolor:'#FFFFFF', bordercolor:'#555555',
    borderwidth:0.8, borderpad:2};
  if(p.arrow){
    Object.assign(a,{showarrow:true, arrowhead:0, arrowwidth:0.8, arrowcolor:'#000', ax:p.dx, ay:p.dy, axref:'pixel', ayref:'pixel', standoff:3});
  } else {
    Object.assign(a,{showarrow:false, xshift:p.dx, yshift:-p.dy});
  }
  annotations.push(a);
});

const layout = {
  width:737, height:1473, margin:{l:97, r:0, t:16, b:49},
  paper_bgcolor:'#FFFFFF', plot_bgcolor:'#FFFFFF', showlegend:false,
  font:{family:FONT},
  xaxis:xAxis('y'),
  yaxis:yAxis('x',[0.52131,1],[-188000,4000000],yTopTickVals,yTopTickText,5e5),
  xaxis2:xAxis('y2'),
  yaxis2:yAxis('x2',[0,0.48011],[-29400,632000],yBotTickVals,yBotTickText,1e5),
  shapes:[{type:'rect', xref:'x', yref:'y', x0:-1.5, x1:0.5, y0:0, y1:600000, layer:'above',
    fillcolor:'rgba(173,216,230,0.45)', line:{color:'#000000', width:1}}],
  annotations:annotations
};
Plotly.newPlot('chart', data, layout, {displayModeBar:false, staticPlot:true});
</script>
</body></html>
